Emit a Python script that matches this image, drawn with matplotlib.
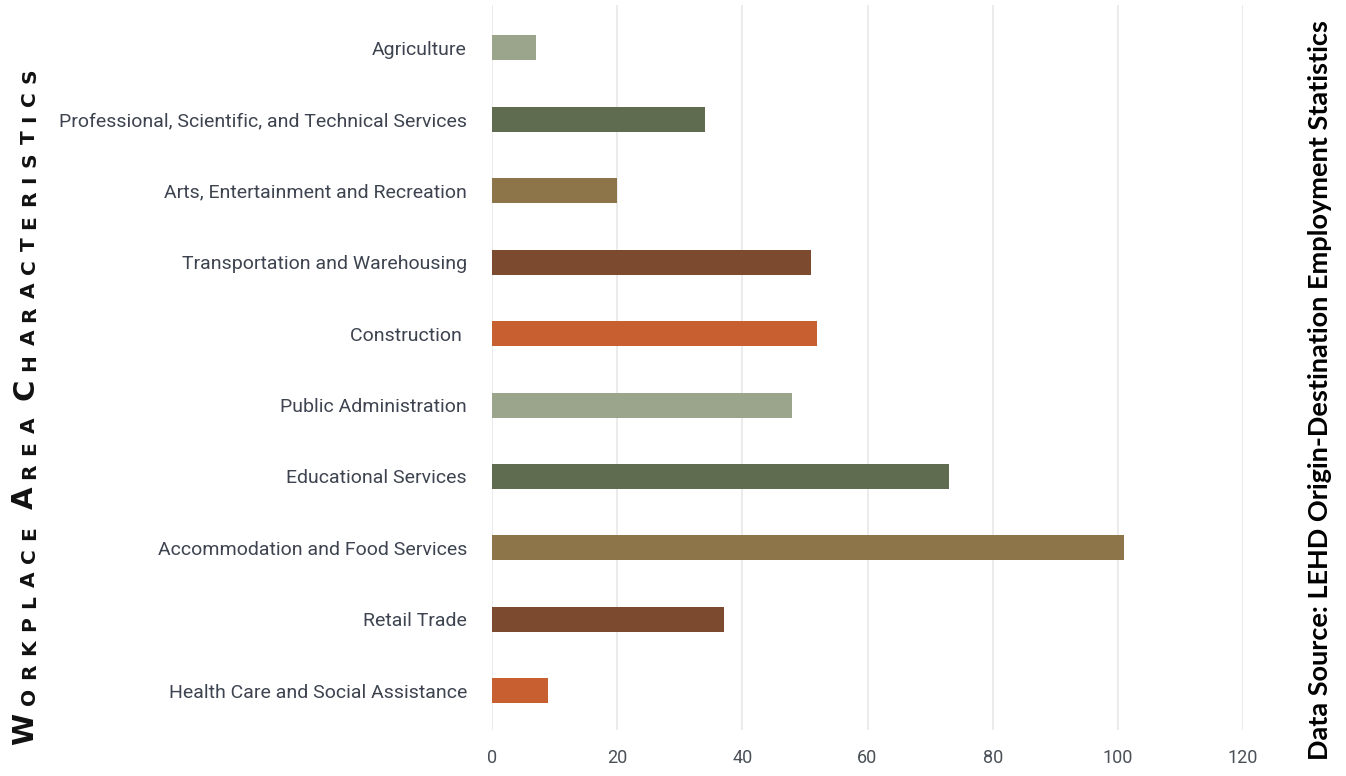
import matplotlib
matplotlib.use('Agg')
import matplotlib.pyplot as plt
from matplotlib import font_manager

# data, bottom to top
categories = ['Health Care and Social Assistance', 'Retail Trade',
              'Accommodation and Food Services', 'Educational Services',
              'Public Administration', 'Construction ',
              'Transportation and Warehousing',
              'Arts, Entertainment and Recreation',
              'Professional, Scientific, and Technical Services',
              'Agriculture']
values = [9, 37, 101, 73, 48, 52, 51, 20, 34, 7]
palette = ['#c75f30', '#7b4a2f', '#8e7449', '#5f6c4f', '#9ba58c']
xticks = [0, 20, 40, 60, 80, 100, 120]

names = {f.name for f in font_manager.fontManager.ttflist}
label_font = 'Liberation Sans Narrow' if 'Liberation Sans Narrow' in names else 'Roboto'

fig = plt.figure(figsize=(13.46, 7.76), dpi=100)
ax = fig.add_axes([492 / 1346, 1 - 730 / 776, (1243 - 492) / 1346, 725 / 776])

colors = [palette[i % len(palette)] for i in range(len(categories))]
ax.barh(range(len(categories)), values, height=0.35, color=colors, zorder=3)

ax.set_xlim(0, 120)
ax.set_ylim(-0.55, 9.6)
ax.set_xticks(xticks)
ax.set_yticks(range(len(categories)))
ax.set_yticklabels(categories)
ax.grid(axis='x', color='#e9e9e9', linewidth=1.3, zorder=0)
ax.tick_params(length=0)
ax.tick_params(axis='y', pad=18)
ax.tick_params(axis='x', pad=14)
for s in ax.spines.values():
    s.set_visible(False)
for lab in ax.get_yticklabels():
    lab.set_fontfamily(label_font)
    lab.set_fontsize(14)
    lab.set_color('#3d4450')
for lab in ax.get_xticklabels():
    lab.set_fontfamily(label_font)
    lab.set_fontsize(13)
    lab.set_color('#4a5058')

# small caps title on the left, one letter at a time for the wide tracking
title_words = ['WORKPLACE', 'AREA', 'CHARACTERISTICS']
big, small = 21, 14.5
track, word_gap = 6, 12
prev = None
for w, word in enumerate(title_words):
    for k, ch in enumerate(word):
        size = big if k == 0 else small
        kw = dict(rotation=90, ha='right', va='bottom', fontsize=size,
                  fontweight='bold', family='DejaVu Sans', color='#111111')
        if prev is None:
            prev = fig.text(0.029, 1 - 745 / 776, ch, **kw)
        else:
            gap = word_gap if k == 0 else track
            prev = ax.annotate(ch, xy=(1, 1), xycoords=prev, xytext=(0, gap),
                               textcoords='offset points', annotation_clip=False, **kw)

fig.text(0.981, 0.497, 'Data Source: LEHD Origin-Destination Employment Statistics',
         rotation=90, ha='center', va='center', fontsize=19.5, fontweight='bold',
         family='Lato', color='#000000')

fig.savefig('out.png', dpi=100)
